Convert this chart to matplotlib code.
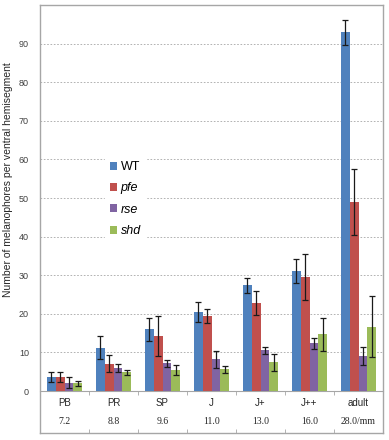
import numpy as np
import matplotlib.pyplot as plt

# stages and body length (mm)
stages = ['PB', 'PR', 'SP', 'J', 'J+', 'J++', 'adult']
lengths = ['7.2', '8.8', '9.6', '11.0', '13.0', '16.0', '28.0/mm']

series = ['WT', 'pfe', 'rse', 'shd']
colors = ['#4F81BD', '#C0504D', '#8064A2', '#9BBB59']

wt = [3.6, 11.2, 16.0, 20.4, 27.4, 31.1, 92.9]
wt_err = [1.2, 3.0, 3.0, 2.6, 2.0, 3.0, 3.3]
pfe = [3.6, 7.0, 14.2, 19.4, 22.7, 29.5, 49.0]
pfe_err = [1.3, 2.2, 5.2, 1.8, 3.1, 5.9, 8.5]
rse = [2.2, 6.0, 7.2, 8.2, 10.5, 12.4, 9.1]
rse_err = [1.4, 1.0, 0.9, 2.2, 0.8, 1.4, 2.3]
shd = [2.0, 4.8, 5.5, 5.6, 7.4, 14.7, 16.7]
shd_err = [0.7, 0.6, 1.3, 0.9, 2.3, 4.3, 7.8]

values = [wt, pfe, rse, shd]
errors = [wt_err, pfe_err, rse_err, shd_err]

W, H = 389, 440
fig = plt.figure(figsize=(W / 100, H / 100), dpi=100)
frame_col = '#A6A6A6'

# outer box that also holds the category table
ax_bg = fig.add_axes([40 / W, 7 / H, 343 / W, 428 / H])
ax_bg.set_xlim(-0.5, len(stages) - 0.5)
ax_bg.set_xticks([])
ax_bg.set_yticks([])
ax_bg.set_xticks(np.arange(0.5, len(stages) - 0.5), minor=True)
ax_bg.tick_params(which='minor', direction='in', length=3, color=frame_col)
for s in ax_bg.spines.values():
    s.set_color(frame_col)
    s.set_linewidth(1.0)

ax = fig.add_axes([40 / W, 49 / H, 343 / W, 386 / H])
ax.patch.set_alpha(0)
x = np.arange(len(stages))
bw = 0.18
for i, (v, e, c, name) in enumerate(zip(values, errors, colors, series)):
    pos = x + (i - 1.5) * bw
    ax.bar(pos, v, bw, color=c, label=name, zorder=3)
    ax.errorbar(pos, v, yerr=e, fmt='none', ecolor='#1a1a1a',
                elinewidth=0.9, capsize=2, capthick=0.9, zorder=4)

ax.set_xlim(-0.5, len(stages) - 0.5)
ax.set_ylim(0, 100)
ax.set_yticks(range(0, 100, 10))
ax.tick_params(axis='y', length=0, pad=8, labelsize=6.5, labelcolor='#404040')
ax.set_xticks([])
ax.set_xticks(np.arange(0.5, len(stages) - 0.5), minor=True)
ax.tick_params(axis='x', which='minor', direction='out', length=3, color=frame_col)
for t in ax.get_yticklabels():
    t.set_fontfamily('Liberation Sans')
for sp in ['top', 'right', 'left']:
    ax.spines[sp].set_visible(False)
ax.spines['bottom'].set_color(frame_col)
ax.grid(axis='y', color='#A6A6A6', linestyle=(0, (2, 2)), linewidth=0.6, zorder=0)
ax.set_axisbelow(True)

trans = ax.get_xaxis_transform()
for xi, st, ln in zip(x, stages, lengths):
    ax.text(xi, -12 / 386, st, ha='center', va='center', fontsize=7,
            family='Liberation Sans', color='#262626', transform=trans)
    ax.text(xi, -30 / 386, ln, ha='center', va='center', fontsize=7,
            family='Liberation Serif', color='#262626', transform=trans)

fig.text(8 / W, 1 - 180 / H, 'Number of melanophores per ventral hemisegment',
         rotation=90, ha='center', va='center', fontsize=7.5,
         family='Liberation Sans', color='#262626')

leg = ax.legend(loc='upper left', bbox_to_anchor=(0.17, 0.625), frameon=True,
                framealpha=1, edgecolor='white', fontsize=9,
                handlelength=0.6, handleheight=0.6, handletextpad=0.3,
                labelspacing=0.75, borderpad=0.4)
for i, t in enumerate(leg.get_texts()):
    t.set_fontfamily('Liberation Sans')
    if i > 0:
        t.set_fontstyle('italic')

fig.savefig('out.png', dpi=100)
